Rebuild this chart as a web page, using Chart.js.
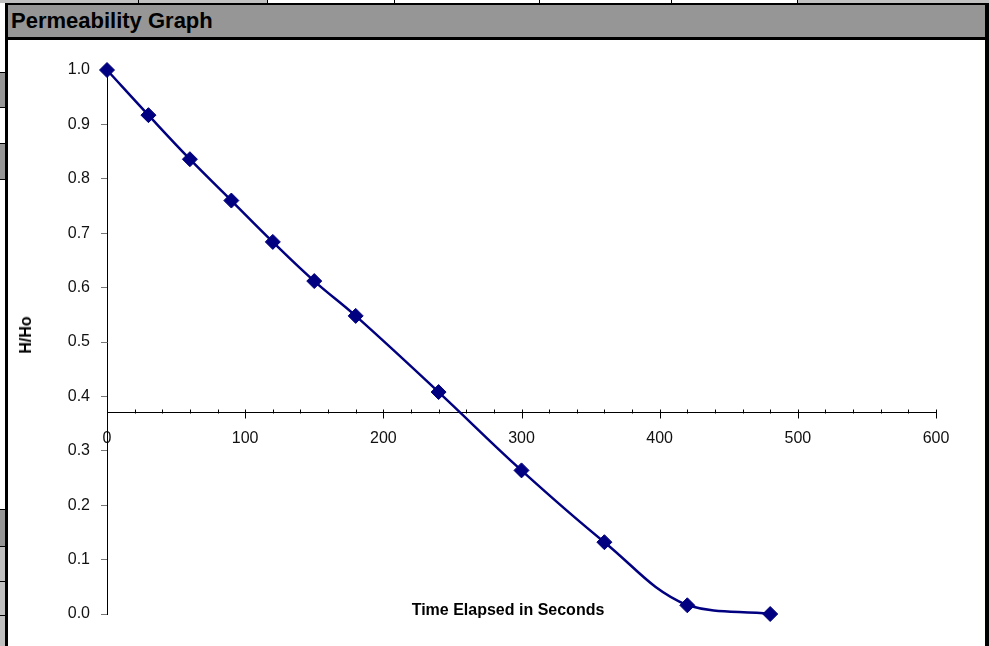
<!DOCTYPE html>
<html>
<head>
<meta charset="utf-8">
<title>Permeability Graph</title>
<script src="https://cdn.jsdelivr.net/npm/chart.js@4.4.1/dist/chart.umd.min.js"></script>
<style>
  html, body { margin: 0; padding: 0; background: #fff; }
  body { width: 989px; height: 646px; overflow: hidden; position: relative;
         font-family: "Liberation Sans", Arial, sans-serif; }
  .abs { position: absolute; }
  .blk { position: absolute; background: #000; }
  #titlebar { position: absolute; left: 8px; top: 5px; width: 977px; height: 32px;
              background: #969696; }
  #titletext { position: absolute; left: 11px; top: 5px; height: 32px; line-height: 32px;
               font-size: 22px; font-weight: bold; color: #000; white-space: nowrap; }
  #wrap { position: absolute; left: 8px; top: 40px; width: 977px; height: 606px; }
  #xtitle { position: absolute; left: 508px; top: 602px; transform: translateX(-50%);
            font-size: 16px; line-height: 16px; font-weight: bold; white-space: nowrap; color: #000; }
  #ytitle { position: absolute; left: 26px; top: 335px; transform: translate(-50%, -50%) rotate(-90deg);
            font-size: 16px; line-height: 16px; font-weight: bold; white-space: nowrap; color: #000; }
</style>
</head>
<body>
<!-- spreadsheet cell fragments around the chart -->
<div class="abs" style="left:0;top:0;width:267px;height:3px;background:#c0c0c0"></div>
<div class="abs" style="left:797px;top:0;width:192px;height:3px;background:#c0c0c0"></div>
<div class="blk" style="left:138px;top:0;width:1px;height:3px"></div>
<div class="blk" style="left:267px;top:0;width:1px;height:3px"></div>
<div class="blk" style="left:394px;top:0;width:1px;height:3px"></div>
<div class="blk" style="left:539px;top:0;width:1px;height:3px"></div>
<div class="blk" style="left:671px;top:0;width:1px;height:3px"></div>
<div class="blk" style="left:797px;top:0;width:1px;height:3px"></div>

<div class="abs" style="left:0;top:73px;width:5px;height:34px;background:#969696"></div>
<div class="blk" style="left:0;top:72px;width:5px;height:1px"></div>
<div class="blk" style="left:0;top:107px;width:5px;height:1px"></div>
<div class="abs" style="left:0;top:144px;width:5px;height:35px;background:#969696"></div>
<div class="blk" style="left:0;top:143px;width:5px;height:1px"></div>
<div class="blk" style="left:0;top:179px;width:5px;height:1px"></div>
<div class="abs" style="left:0;top:510px;width:5px;height:36px;background:#969696"></div>
<div class="blk" style="left:0;top:509px;width:5px;height:1px"></div>
<div class="blk" style="left:0;top:546px;width:5px;height:1px"></div>
<div class="abs" style="left:0;top:547px;width:5px;height:99px;background:#c0c0c0"></div>
<div class="blk" style="left:0;top:581px;width:5px;height:1px"></div>
<div class="blk" style="left:0;top:615px;width:5px;height:1px"></div>

<!-- chart frame -->
<div class="blk" style="left:5px;top:3px;width:984px;height:2px"></div>
<div id="titlebar"></div>
<div id="titletext">Permeability Graph</div>
<div class="blk" style="left:5px;top:37px;width:984px;height:3px"></div>
<div class="blk" style="left:5px;top:3px;width:3px;height:643px"></div>
<div class="blk" style="left:985px;top:3px;width:4px;height:643px"></div>

<div id="wrap"><canvas id="c" width="977" height="606"></canvas></div>
<div id="ytitle">H/Ho</div>
<div id="xtitle">Time Elapsed in Seconds</div>

<script>
// ---- data ----
const timeSeconds = [0, 30, 60, 90, 120, 150, 180, 240, 300, 360, 420, 480];
const hOverHo     = [1.000, 0.917, 0.836, 0.760, 0.684, 0.612, 0.548, 0.408, 0.264, 0.132, 0.016, 0.000];

// axis settings
const xMin = 0, xMax = 600, xMajorStep = 100, xMinorStep = 20;
const yMin = 0, yMax = 1, yStep = 0.1;
const xAxisCrossesAt = 0.37;

const seriesColor = '#000080';
const fontFamily = '"Liberation Sans", Arial, sans-serif';

const points = timeSeconds.map((t, i) => ({ x: t, y: hOverHo[i] }));

// draws x-axis tick marks (major cross, minor inside) at the crossing value
const xTickMarks = {
  id: 'xTickMarks',
  beforeDatasetsDraw(chart) {
    const xs = chart.scales.x, ys = chart.scales.y, ctx = chart.ctx;
    const yp = Math.round(ys.getPixelForValue(xAxisCrossesAt)) + 0.5;
    ctx.save();
    ctx.strokeStyle = '#000';
    ctx.lineWidth = 1;
    for (let v = xMin; v <= xMax; v += xMinorStep) {
      const px = Math.round(xs.getPixelForValue(v)) + 0.5;
      const major = (v % xMajorStep) === 0;
      ctx.beginPath();
      ctx.moveTo(px, yp - 4);
      ctx.lineTo(px, major ? yp + 5 : yp);
      ctx.stroke();
    }
    ctx.restore();
  }
};

new Chart(document.getElementById('c'), {
  type: 'line',
  data: {
    datasets: [{
      label: 'H/Ho',
      data: points,
      borderColor: seriesColor,
      backgroundColor: seriesColor,
      borderWidth: 2.5,
      tension: 0.4,
      pointStyle: 'rectRot',
      pointRadius: 7.5,
      pointBorderWidth: 1,
      pointBackgroundColor: seriesColor,
      pointBorderColor: seriesColor,
      fill: false,
      clip: false
    }]
  },
  options: {
    responsive: false,
    animation: false,
    devicePixelRatio: 1,
    layout: { padding: { left: 39, right: 49, top: 30, bottom: 32 } },
    plugins: { legend: { display: false }, tooltip: { enabled: false }, title: { display: false } },
    scales: {
      x: {
        type: 'linear',
        min: xMin, max: xMax,
        position: { y: xAxisCrossesAt },
        grid: { display: false, drawTicks: false },
        border: { display: true, color: '#000', width: 1 },
        ticks: {
          stepSize: xMajorStep,
          autoSkip: false,
          maxRotation: 0,
          padding: 16,
          color: '#111',
          font: { family: fontFamily, size: 16 }
        },
        afterFit(scale) { scale.height = 0; }
      },
      y: {
        type: 'linear',
        min: yMin, max: yMax,
        position: 'left',
        grid: { display: true, drawOnChartArea: false, drawTicks: true, tickLength: 6, color: '#777' },
        border: { display: true, color: '#000', width: 1 },
        ticks: {
          stepSize: yStep,
          padding: 11,
          color: '#111',
          font: { family: fontFamily, size: 16 },
          callback: v => Number(v).toFixed(1)
        },
        afterFit(scale) { scale.width = 60; }
      }
    }
  },
  plugins: [xTickMarks]
});
</script>
</body>
</html>
